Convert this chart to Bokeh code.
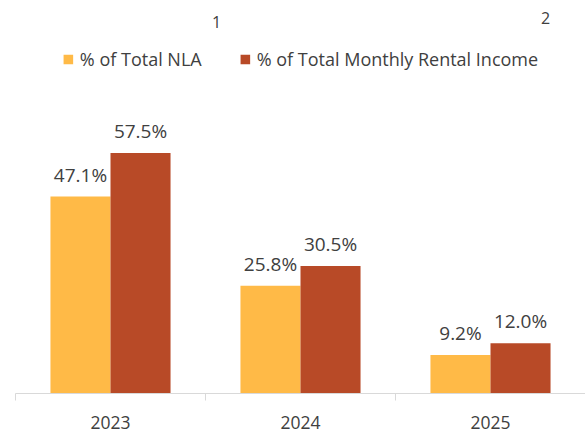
from bokeh.plotting import figure
from bokeh.models import ColumnDataSource, FixedTicker, Range1d, Legend, LegendItem, Label
from bokeh.transform import dodge
from bokeh.core.properties import value
from bokeh.embed import file_html
from bokeh.resources import INLINE

categories = ["2023", "2024", "2025"]
nla = [47.1, 25.8, 9.2]
rental = [57.5, 30.5, 12.0]
series_names = ["% of Total NLA", "% of Total Monthly Rental Income"]
footnotes = ["1", "2"]

YELLOW = "#FFBA47"
RED = "#B84A27"
TEXT = "#404040"
FONT = "Open Sans"

xs = list(range(len(categories)))
src = ColumnDataSource(dict(
    x=xs, cat=categories, nla=nla, rental=rental,
    nla_lbl=[f"{v:.1f}%" for v in nla],
    rental_lbl=[f"{v:.1f}%" for v in rental],
))

p = figure(width=585, height=432, output_backend="svg", toolbar_location=None,
           x_range=Range1d(-0.5, len(categories) - 0.5), y_range=Range1d(0, 94.0),
           min_border_left=15, min_border_right=0, min_border_top=0, min_border_bottom=39)
p.outline_line_color = None
p.grid.visible = False
p.yaxis.visible = False

bw = 0.316
off = bw / 2
r1 = p.vbar(x=dodge("x", -off), top="nla", width=bw, source=src, fill_color=YELLOW, line_color=None)
r2 = p.vbar(x=dodge("x", off), top="rental", width=bw, source=src, fill_color=RED, line_color=None)

for col, lbl, o in (("nla", "nla_lbl", -off), ("rental", "rental_lbl", off)):
    p.text(x=dodge("x", o), y=col, text=lbl, source=src, text_align="center",
           text_baseline="bottom", y_offset=-9, text_font=value(FONT),
           text_font_size="19px", text_color=TEXT)

ax = p.xaxis[0]
ax.ticker = FixedTicker(ticks=xs, minor_ticks=[i - 0.5 for i in range(len(categories) + 1)])
ax.major_label_overrides = {i: c for i, c in zip(xs, categories)}
ax.major_tick_out = 0
ax.major_tick_in = 0
ax.minor_tick_out = 7
ax.minor_tick_in = 0
ax.minor_tick_line_color = "#D9D9D9"
ax.axis_line_color = "#D9D9D9"
ax.axis_line_width = 1
ax.major_label_standoff = 15
ax.major_label_text_font = FONT
ax.major_label_text_font_size = "17.5px"
ax.major_label_text_color = TEXT

legend = Legend(items=[LegendItem(label=series_names[0], renderers=[r1]),
                       LegendItem(label=series_names[1], renderers=[r2])],
                orientation="horizontal", location="top_center", margin=47,
                glyph_width=12, glyph_height=12, label_standoff=6, spacing=37,
                padding=0, border_line_color=None, background_fill_alpha=0,
                label_text_font=FONT, label_text_font_size="18px", label_text_color=TEXT)
p.add_layout(legend, "center")

for t, sx, sy in ((footnotes[0], 201, 378), (footnotes[1], 530, 382)):
    p.add_layout(Label(x=sx, y=sy, x_units="screen", y_units="screen", text=t,
                       text_font=FONT, text_font_size="16px", text_color=TEXT,
                       text_baseline="top", text_align="center"))

open("out.html", "w").write(file_html(p, INLINE))
